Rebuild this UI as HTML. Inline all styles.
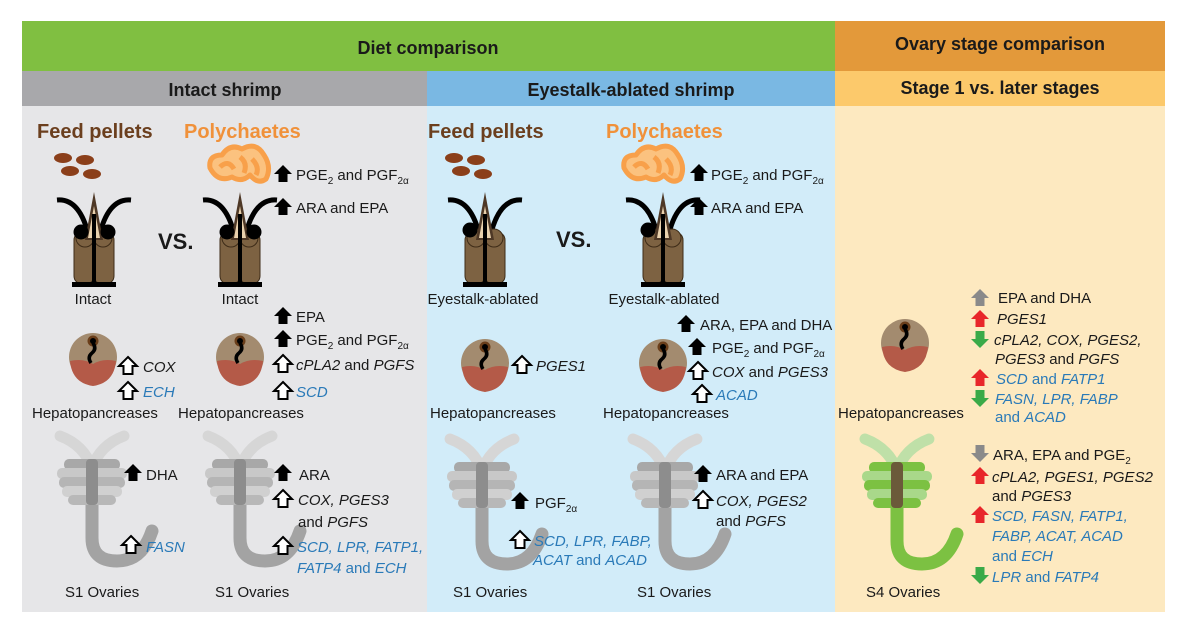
<!DOCTYPE html>
<html><head><meta charset="utf-8"><style>
html,body{margin:0;padding:0;background:#fff;}
svg{display:block;}
text{font-family:"Liberation Sans",Arial,sans-serif;font-size:15px;fill:#1a1a1a;}
.h{font-weight:bold;font-size:18px;}
.i{font-style:italic;}
.b{fill:#2a7ab8;}
.sub{font-size:10px;}
</style></head><body>
<svg width="1185" height="630" viewBox="0 0 1185 630" xmlns="http://www.w3.org/2000/svg">
<defs>
<g id="up"><path d="M0,-9 L9,0 L4.5,0 L4.5,8 L-4.5,8 L-4.5,0 L-9,0 Z"/></g>
<g id="shrimp">
  <path d="M-37,8 Q-14,6 -5,45" stroke="#000" stroke-width="5" fill="none"/>
  <path d="M37,8 Q14,6 5,45" stroke="#000" stroke-width="5" fill="none"/>
  <rect x="-20" y="40" width="20" height="52" rx="8" fill="#7d6242" stroke="#3e2c18" stroke-width="1"/>
  <rect x="0" y="40" width="20" height="52" rx="8" fill="#7d6242" stroke="#3e2c18" stroke-width="1"/>
  <circle cx="-9" cy="46" r="9" fill="#7d6242" stroke="#3e2c18"/>
  <circle cx="9" cy="46" r="9" fill="#7d6242" stroke="#3e2c18"/>
  <polygon points="0,0 -9,48 9,48" fill="#4e3826"/>
  <polygon points="0,14 -6,46 6,46" fill="#e9d1ad"/>
  <rect x="-2" y="22" width="4" height="72" fill="#000"/>
  <rect x="-22" y="90" width="44" height="5" fill="#000"/>
</g>
<g id="hep">
  <circle cx="0" cy="0" r="24" fill="#a38b6f"/>
  <path d="M-23,4 Q-10,1 0,7 Q10,1 23,4 Q21,26 0,29 Q-21,26 -23,4 Z" fill="#b45a48"/>
  <circle cx="0" cy="-16" r="5.5" fill="#6a3e1a"/>
  <circle cx="0" cy="-16" r="3" fill="#000"/>
  <path d="M0,-14 Q4,-8 -1,-4 Q-6,0 -2,6" stroke="#000" stroke-width="3.5" fill="none"/>
</g>
<g id="ovg">
  <path d="M0,35 Q-8,12 -32,3" stroke="#d6d6d6" stroke-width="11" fill="none" stroke-linecap="round"/>
  <path d="M0,35 Q8,12 32,3" stroke="#d6d6d6" stroke-width="11" fill="none" stroke-linecap="round"/>
  <path d="M0,65 L0,105 Q0,128 25,128 Q50,128 60,98" stroke="#a3a3a3" stroke-width="13" fill="none" stroke-linecap="round"/>
  <rect x="-28" y="26" width="56" height="11" rx="5" fill="#a8a8a8"/>
  <rect x="-35" y="35" width="70" height="11" rx="5" fill="#c8c8c8"/>
  <rect x="-33" y="44" width="66" height="11" rx="5" fill="#b5b5b5"/>
  <rect x="-30" y="53" width="60" height="11" rx="5" fill="#d0d0d0"/>
  <rect x="-24" y="62" width="48" height="10" rx="5" fill="#b8b8b8"/>
  <rect x="-6" y="26" width="12" height="46" rx="4" fill="#8d8d8d"/>
</g>
<g id="ovgr">
  <path d="M0,35 Q-8,12 -32,3" stroke="#bfe0a8" stroke-width="11" fill="none" stroke-linecap="round"/>
  <path d="M0,35 Q8,12 32,3" stroke="#bfe0a8" stroke-width="11" fill="none" stroke-linecap="round"/>
  <path d="M0,65 L0,105 Q0,128 25,128 Q50,128 60,98" stroke="#7cc142" stroke-width="13" fill="none" stroke-linecap="round"/>
  <rect x="-28" y="26" width="56" height="11" rx="5" fill="#7cc142"/>
  <rect x="-35" y="35" width="70" height="11" rx="5" fill="#a9d88a"/>
  <rect x="-33" y="44" width="66" height="11" rx="5" fill="#7cc142"/>
  <rect x="-30" y="53" width="60" height="11" rx="5" fill="#a9d88a"/>
  <rect x="-24" y="62" width="48" height="10" rx="5" fill="#7cc142"/>
  <rect x="-6" y="26" width="12" height="46" rx="4" fill="#6b5a3a"/>
</g>
<g id="pel">
  <ellipse cx="-14" cy="-12" rx="9" ry="5" fill="#8b3f1a"/>
  <ellipse cx="8" cy="-10" rx="9" ry="5" fill="#8b3f1a"/>
  <ellipse cx="-7" cy="1" rx="9" ry="5" fill="#8b3f1a"/>
  <ellipse cx="15" cy="4" rx="9" ry="5" fill="#8b3f1a"/>
</g>
<g id="poly" fill="none" stroke="#f8a04a" stroke-width="5" stroke-linejoin="round">
  <path d="M-28,5 Q-30,-8 -16,-8 Q-8,-20 4,-14 Q18,-22 26,-8 Q34,4 28,16 Q20,22 12,12 Q4,20 -6,14 Q-20,20 -28,5 Z" fill="#fbc27f"/>
  <path d="M-18,4 Q-10,-4 -4,6 M2,-6 Q10,0 6,10 M14,-4 Q22,4 18,12" />
</g>
</defs>

<rect x="22" y="21" width="813" height="50" fill="#80bf41"/>
<rect x="835" y="21" width="330" height="50" fill="#e3993a"/>
<rect x="22" y="71" width="405" height="35" fill="#a8a8ab"/>
<rect x="427" y="71" width="408" height="35" fill="#7ab8e3"/>
<rect x="835" y="71" width="330" height="35" fill="#fcc96b"/>
<rect x="22" y="106" width="405" height="506" fill="#e6e6e8"/>
<rect x="427" y="106" width="408" height="506" fill="#d2ecf9"/>
<rect x="835" y="106" width="330" height="506" fill="#fde9c0"/>

<text class="h" x="428" y="54" text-anchor="middle">Diet comparison</text>
<text class="h" x="1000" y="50" text-anchor="middle">Ovary stage comparison</text>
<text class="h" x="225" y="96" text-anchor="middle">Intact shrimp</text>
<text class="h" x="631" y="96" text-anchor="middle">Eyestalk-ablated shrimp</text>
<text class="h" x="1000" y="94" text-anchor="middle">Stage 1 vs. later stages</text>

<text class="h" x="37" y="138" style="fill:#6b3f1e;font-size:20px">Feed pellets</text>
<text class="h" x="184" y="138" style="fill:#f0913a;font-size:20px">Polychaetes</text>
<text class="h" x="428" y="138" style="fill:#6b3f1e;font-size:20px">Feed pellets</text>
<text class="h" x="606" y="138" style="fill:#f0913a;font-size:20px">Polychaetes</text>

<use href="#pel" x="77" y="170"/>
<use href="#shrimp" x="94" y="192"/>
<circle cx="81" cy="232" r="7.5" fill="#000"/><circle cx="108" cy="232" r="7.5" fill="#000"/>
<text class="h" x="158" y="249" style="font-size:22px">VS.</text>
<use href="#poly" x="238" y="163"/>
<use href="#shrimp" x="240" y="192"/>
<circle cx="227" cy="232" r="7.5" fill="#000"/><circle cx="254" cy="232" r="7.5" fill="#000"/>
<use href="#up" x="283" y="174"/>
<text x="296" y="180">PGE<tspan class="sub" dy="4">2</tspan><tspan dy="-4"> and PGF</tspan><tspan class="sub" dy="4">2α</tspan></text>
<use href="#up" x="283" y="207"/><text x="296" y="213">ARA and EPA</text>
<text x="93" y="304" text-anchor="middle">Intact</text>
<text x="240" y="304" text-anchor="middle">Intact</text>

<use href="#pel" x="468" y="170"/>
<use href="#shrimp" x="485" y="192"/>
<circle cx="470" cy="230" r="7.5" fill="#000"/>
<text class="h" x="556" y="247" style="font-size:22px">VS.</text>
<use href="#poly" x="652" y="163"/>
<use href="#shrimp" x="663" y="192"/>
<circle cx="648" cy="230" r="7.5" fill="#000"/>
<use href="#up" x="699" y="173"/>
<text x="711" y="180">PGE<tspan class="sub" dy="4">2</tspan><tspan dy="-4"> and PGF</tspan><tspan class="sub" dy="4">2α</tspan></text>
<use href="#up" x="699" y="207"/><text x="711" y="213">ARA and EPA</text>
<text x="483" y="304" text-anchor="middle">Eyestalk-ablated</text>
<text x="664" y="304" text-anchor="middle">Eyestalk-ablated</text>

<use href="#hep" x="93" y="357"/>
<use href="#up" x="128" y="366" fill="#fff" stroke="#000" stroke-width="2"/><text class="i" x="143" y="372">COX</text>
<use href="#up" x="128" y="391" fill="#fff" stroke="#000" stroke-width="2"/><text class="i b" x="143" y="397">ECH</text>
<text x="32" y="418">Hepatopancreases</text>

<use href="#hep" x="240" y="357"/>
<use href="#up" x="283" y="316"/><text x="296" y="322">EPA</text>
<use href="#up" x="283" y="339"/><text x="296" y="345">PGE<tspan class="sub" dy="4">2</tspan><tspan dy="-4"> and PGF</tspan><tspan class="sub" dy="4">2α</tspan></text>
<use href="#up" x="283" y="364" fill="#fff" stroke="#000" stroke-width="2"/><text x="296" y="370"><tspan class="i">cPLA2</tspan> and <tspan class="i">PGFS</tspan></text>
<use href="#up" x="283" y="391" fill="#fff" stroke="#000" stroke-width="2"/><text class="i b" x="296" y="397">SCD</text>
<text x="178" y="418">Hepatopancreases</text>

<use href="#hep" x="485" y="363"/>
<use href="#up" x="522" y="365" fill="#fff" stroke="#000" stroke-width="2"/><text class="i" x="536" y="371">PGES1</text>
<text x="430" y="418">Hepatopancreases</text>

<use href="#hep" x="663" y="363"/>
<use href="#up" x="686" y="324"/><text x="700" y="330">ARA, EPA and DHA</text>
<use href="#up" x="697" y="347"/><text x="712" y="353">PGE<tspan class="sub" dy="4">2</tspan><tspan dy="-4"> and PGF</tspan><tspan class="sub" dy="4">2α</tspan></text>
<use href="#up" x="698" y="371" fill="#fff" stroke="#000" stroke-width="2"/><text x="712" y="377"><tspan class="i">COX</tspan> and <tspan class="i">PGES3</tspan></text>
<use href="#up" x="702" y="394" fill="#fff" stroke="#000" stroke-width="2"/><text class="i b" x="716" y="400">ACAD</text>
<text x="603" y="418">Hepatopancreases</text>

<use href="#ovg" x="92" y="433"/>
<use href="#up" x="133" y="473"/><text x="146" y="480">DHA</text>
<use href="#up" x="131" y="545" fill="#fff" stroke="#000" stroke-width="2"/><text class="i b" x="146" y="552">FASN</text>
<text x="65" y="597">S1 Ovaries</text>

<use href="#ovg" x="240" y="433"/>
<use href="#up" x="283" y="473"/><text x="299" y="480">ARA</text>
<use href="#up" x="283" y="499" fill="#fff" stroke="#000" stroke-width="2"/><text class="i" x="298" y="505">COX, PGES3</text>
<text x="298" y="527">and <tspan class="i">PGFS</tspan></text>
<use href="#up" x="283" y="546" fill="#fff" stroke="#000" stroke-width="2"/><text class="i b" x="297" y="552">SCD, LPR, FATP1,</text>
<text class="b" x="297" y="573"><tspan class="i">FATP4</tspan> and <tspan class="i">ECH</tspan></text>
<text x="215" y="597">S1 Ovaries</text>

<use href="#ovg" x="482" y="436"/>
<use href="#up" x="520" y="501"/><text x="535" y="508">PGF<tspan class="sub" dy="4">2α</tspan></text>
<use href="#up" x="520" y="540" fill="#fff" stroke="#000" stroke-width="2"/><text class="i b" x="534" y="546">SCD, LPR, FABP,</text>
<text class="b" x="533" y="565"><tspan class="i">ACAT</tspan> and <tspan class="i">ACAD</tspan></text>
<text x="453" y="597">S1 Ovaries</text>

<use href="#ovg" x="665" y="436"/>
<use href="#up" x="703" y="474"/><text x="716" y="480">ARA and EPA</text>
<use href="#up" x="703" y="500" fill="#fff" stroke="#000" stroke-width="2"/><text class="i" x="716" y="506">COX, PGES2</text>
<text x="716" y="526">and <tspan class="i">PGFS</tspan></text>
<text x="637" y="597">S1 Ovaries</text>

<use href="#hep" x="905" y="343"/>
<use href="#up" x="980" y="298" fill="#8a8a8a"/><text x="998" y="303">EPA and DHA</text>
<use href="#up" x="980" y="319" fill="#e8262a"/><text class="i" x="997" y="324">PGES1</text>
<use href="#up" x="980" y="339" fill="#3aaa48" transform="rotate(180 980 339)"/><text class="i" x="994" y="345">cPLA2, COX, PGES2,</text>
<text x="995" y="364"><tspan class="i">PGES3</tspan> and <tspan class="i">PGFS</tspan></text>
<use href="#up" x="980" y="378" fill="#e8262a"/><text class="b" x="996" y="384"><tspan class="i">SCD</tspan> and <tspan class="i">FATP1</tspan></text>
<use href="#up" x="980" y="398" fill="#3aaa48" transform="rotate(180 980 398)"/><text class="i b" x="995" y="404">FASN, LPR, FABP</text>
<text class="b" x="995" y="422">and <tspan class="i">ACAD</tspan></text>
<text x="838" y="418">Hepatopancreases</text>

<use href="#ovgr" x="897" y="436"/>
<use href="#up" x="980" y="453" fill="#8a8a8a" transform="rotate(180 980 453)"/><text x="993" y="460">ARA, EPA and PGE<tspan class="sub" dy="4">2</tspan></text>
<use href="#up" x="980" y="476" fill="#e8262a"/><text class="i" x="992" y="482">cPLA2, PGES1, PGES2</text>
<text x="992" y="501">and <tspan class="i">PGES3</tspan></text>
<use href="#up" x="980" y="515" fill="#e8262a"/><text class="i b" x="992" y="521">SCD, FASN, FATP1,</text>
<text class="i b" x="992" y="541">FABP, ACAT, ACAD</text>
<text class="b" x="992" y="561">and <tspan class="i">ECH</tspan></text>
<use href="#up" x="980" y="575" fill="#3aaa48" transform="rotate(180 980 575)"/><text class="b" x="992" y="582"><tspan class="i">LPR</tspan> and <tspan class="i">FATP4</tspan></text>
<text x="866" y="597">S4 Ovaries</text>
</svg>
</body></html>
